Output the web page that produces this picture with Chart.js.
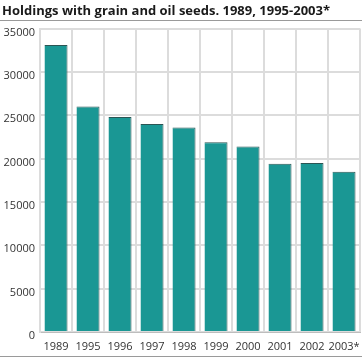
<!DOCTYPE html>
<html>
<head>
<meta charset="utf-8">
<script src="https://cdn.jsdelivr.net/npm/chart.js@4/dist/chart.umd.min.js"></script>
<style>
  html, body { margin: 0; padding: 0; background: #fff; }
  #wrap { width: 362px; height: 360px; position: relative; }
</style>
</head>
<body>
<div id="wrap"><canvas id="chart" width="362" height="360"></canvas></div>
<script>
// ── Data ─────────────────────────────────────────────────────
const years    = ['1989', '1995', '1996', '1997', '1998', '1999', '2000', '2001', '2002', '2003*'];
const holdings = [33100, 26000, 24800, 24000, 23600, 21900, 21400, 19400, 19500, 18500];
const yTicks   = [0, 5000, 10000, 15000, 20000, 25000, 30000, 35000];

const FONT = '"Open Sans", "DejaVu Sans", sans-serif';
const GRID = '#dcdcdc';

// ── Rules under title and at the bottom ──────────────────────
const frameLines = {
  id: 'frameLines',
  afterDraw(chart) {
    const { ctx, width } = chart;
    ctx.save();
    ctx.strokeStyle = '#9a9a9a';
    ctx.lineWidth = 1;
    ctx.beginPath();
    ctx.moveTo(0, 20.5);  ctx.lineTo(width, 20.5);
    ctx.moveTo(0, 356.5); ctx.lineTo(width, 356.5);
    ctx.stroke();
    ctx.restore();
  }
};

new Chart(document.getElementById('chart'), {
  type: 'bar',
  data: {
    labels: years,
    datasets: [{
      data: holdings,
      backgroundColor: '#1a9794',
      borderColor: '#2b5554',
      borderWidth: { top: 1, right: 1, left: 0, bottom: 0 },
      borderSkipped: 'bottom',
      barPercentage: 0.72,
      categoryPercentage: 1
    }]
  },
  options: {
    responsive: false,
    animation: false,
    layout: { padding: { left: 2, right: 2, top: 0, bottom: 6 } },
    plugins: {
      legend: { display: false },
      tooltip: { enabled: false },
      title: {
        display: true,
        text: 'Holdings with grain and oil seeds. 1989, 1995-2003*',
        align: 'start',
        color: '#1a1a1a',
        font: { family: FONT, size: 13, weight: 'bold' },
        padding: { top: 3, bottom: 10 }
      }
    },
    scales: {
      x: {
        offset: true,
        afterFit: axis => { axis.height = 22; axis.paddingLeft = 0; axis.paddingRight = 0; },
        grid: { offset: true, color: GRID, lineWidth: 2, drawTicks: false },
        border: { color: '#bdbdbd' },
        ticks: {
          color: '#333', padding: 8, maxRotation: 0, autoSkip: false,
          font: { family: FONT, size: 11 }
        }
      },
      y: {
        min: 0,
        max: 35000,
        afterBuildTicks: axis => { axis.ticks = yTicks.map(v => ({ value: v })); },
        afterFit: axis => { axis.width = 38; axis.paddingTop = 0; axis.paddingBottom = 0; },
        grid: { color: GRID, lineWidth: 2, drawTicks: false },
        border: { color: GRID, width: 2 },
        ticks: {
          color: '#333', padding: 5, labelOffset: 4,
          font: { family: FONT, size: 11 },
          callback: v => String(v)
        }
      }
    }
  },
  plugins: [frameLines]
});
</script>
</body>
</html>
